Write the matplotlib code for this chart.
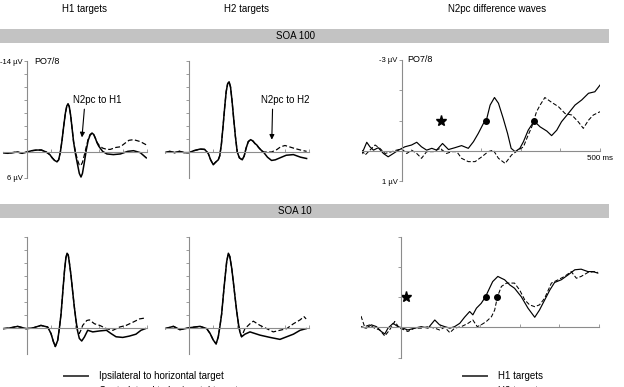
import matplotlib
matplotlib.use("Agg")
import matplotlib.pyplot as plt
from matplotlib.lines import Line2D
from matplotlib.patches import Rectangle

plt.rcParams['font.family'] = ['Liberation Sans', 'DejaVu Sans']

W, H = 624, 387

# ---- ERP waveforms at PO7/8 (µV, negative up), time in ms ----
# H1 targets, SOA 100: shared early part, then ipsi / contra
h1_100_t = [-100, -80, -60, -40, -20, 0, 20, 40, 60, 80, 95, 105, 115, 125, 132, 139, 146, 153, 160, 166, 171, 176, 182, 188, 194]
h1_100_v = [0.1, 0.2, 0.1, 0.0, 0.2, 0.0, -0.2, -0.3, -0.3, 0.0, 0.4, 0.9, 1.3, 1.5, 1.2, 0.0, -1.8, -4.0, -6.0, -7.1, -7.4, -7.0, -5.6, -3.6, -1.6]
h1_100_ipsi_t = [202, 211, 218, 225, 231, 238, 247, 255, 263, 271, 278, 285, 292, 299, 315, 333, 360, 389, 420, 444, 472, 497]
h1_100_ipsi_v = [0.3, 2.0, 3.3, 3.85, 3.3, 1.8, -0.3, -1.8, -2.6, -2.9, -2.7, -2.1, -1.4, -0.9, -0.1, 0.3, 0.4, 0.3, -0.1, -0.2, 0.1, 0.9]
h1_100_contra_t = [202, 211, 218, 224, 231, 238, 247, 255, 263, 271, 278, 285, 292, 299, 315, 333, 347, 370, 389, 410, 425, 444, 472, 497]
h1_100_contra_v = [0.0, 1.3, 2.0, 2.1, 1.6, 0.6, -0.8, -2.0, -2.7, -2.9, -2.7, -2.1, -1.5, -1.1, -0.6, -0.4, -0.4, -0.7, -0.8, -1.4, -1.8, -1.9, -1.6, -1.1]

# H2 targets, SOA 100
h2_100_t = [-100, -80, -60, -40, -20, 0, 20, 46, 65, 80, 90, 101, 110, 122, 128, 135, 142, 149, 155, 161, 167, 173, 179, 186, 193, 201, 210, 222, 230, 238, 247, 257, 266, 275, 282, 290, 300]
h2_100_v = [0.1, -0.1, 0.1, -0.1, 0.1, 0.1, -0.2, -0.45, -0.4, 0.2, 1.2, 1.95, 1.6, 1.2, 0.6, -1.2, -4.0, -7.0, -9.3, -10.5, -10.8, -10.0, -8.0, -5.2, -2.5, 0.0, 0.9, 1.2, 0.6, -0.6, -1.6, -1.9, -1.7, -1.3, -1.1, -0.7, -0.3]
h2_100_ipsi_t = [310, 327, 344, 360, 379, 405, 435, 465, 490]
h2_100_ipsi_v = [0.0, 0.8, 1.3, 1.2, 0.9, 0.5, 0.4, 0.8, 1.0]
h2_100_contra_t = [310, 327, 344, 365, 382, 400, 418, 435, 465, 490]
h2_100_contra_v = [0.0, 0.0, 0.0, -0.35, -0.8, -1.0, -0.8, -0.6, -0.3, -0.1]

# H1 targets, SOA 10
h1_10_t = [-100, -72, -39, -4, 24, 58, 86, 100, 110, 118, 128, 135, 142, 149, 156, 162, 167, 172, 176, 183, 190, 197, 204, 211]
h1_10_v = [0.1, 0.0, -0.25, 0.1, 0.0, -0.4, -0.15, 0.85, 2.1, 2.85, 1.9, 0.0, -2.2, -5.5, -8.7, -10.8, -11.5, -11.2, -10.2, -8.2, -5.7, -3.3, -1.2, 0.5]
h1_10_ipsi_t = [218, 228, 239, 253, 274, 303, 331, 350, 371, 399, 426, 454, 475, 493]
h1_10_ipsi_v = [1.6, 2.0, 1.4, 0.35, 0.6, 0.45, 0.35, 0.85, 1.35, 1.45, 1.25, 0.95, 0.35, 0.1]
h1_10_contra_t = [218, 225, 232, 249, 260, 281, 303, 331, 358, 386, 413, 442, 469, 494]
h1_10_contra_v = [0.85, 0.3, -0.4, -1.15, -1.25, -0.65, -0.4, 0.1, 0.35, -0.15, -0.4, -0.9, -1.4, -1.55]

# H2 targets, SOA 10
h2_10_t = [-100, -65, -38, 4, 46, 74, 88, 101, 113, 122, 129, 136, 143, 150, 157, 164, 170, 178, 185, 192, 199, 206, 212, 219]
h2_10_v = [0.1, -0.25, 0.25, -0.05, -0.25, 0.1, 0.85, 1.85, 2.45, 1.35, -0.3, -2.15, -5.0, -7.7, -10.2, -11.5, -11.0, -9.2, -7.0, -4.7, -2.5, -0.65, 0.6, 1.35]
h2_10_ipsi_t = [233, 254, 296, 338, 379, 407, 435, 463, 488]
h2_10_ipsi_v = [0.95, 0.6, 1.1, 1.45, 1.75, 1.35, 0.95, 0.35, 0.1]
h2_10_contra_t = [233, 254, 268, 296, 324, 351, 379, 407, 435, 463, 479, 488]
h2_10_contra_v = [0.1, -0.65, -1.05, -0.4, 0.1, 0.6, 0.35, 0.1, -0.65, -1.25, -1.75, -1.4]

# ---- N2pc difference waves ----
d100_h1_t = [-100, -88, -80, -71, -59, -46, -34, -21, -8, 8, 25, 38, 50, 63, 76, 88, 103, 118, 134, 151, 168, 181, 193, 206, 213, 223, 234, 244, 256, 267, 276, 286, 298, 307, 319, 334, 349, 366, 378, 391, 403, 420, 437, 454, 471, 487, 500]
d100_h1_v = [0.09, -0.28, -0.13, -0.02, -0.10, 0.09, 0.20, 0.09, -0.02, -0.13, -0.19, -0.28, -0.13, -0.02, -0.08, -0.02, -0.24, -0.04, -0.10, -0.17, -0.08, -0.30, -0.57, -0.90, -0.98, -1.51, -1.76, -1.57, -1.07, -0.57, -0.08, 0.03, -0.08, -0.30, -0.68, -0.98, -0.79, -0.65, -0.50, -0.68, -0.96, -1.23, -1.51, -1.68, -1.90, -1.95, -2.17]
d100_h2_t = [-100, -92, -80, -67, -55, -42, -25, -13, 0, 13, 25, 38, 50, 63, 80, 97, 113, 126, 139, 151, 168, 185, 202, 218, 231, 244, 261, 277, 294, 307, 319, 328, 340, 349, 361, 378, 395, 412, 429, 445, 458, 471, 483, 500]
d100_h2_v = [-0.02, 0.14, -0.02, -0.19, -0.08, 0.09, 0.03, -0.02, -0.06, 0.09, -0.02, 0.09, 0.25, 0.03, 0.03, -0.08, 0.09, 0.03, 0.03, 0.25, 0.36, 0.36, 0.20, 0.03, -0.02, 0.25, 0.42, 0.14, -0.02, -0.13, -0.52, -0.79, -1.29, -1.51, -1.76, -1.60, -1.46, -1.23, -1.18, -0.96, -0.74, -1.01, -1.18, -1.29]
d10_h1_t = [-100, -87, -74, -61, -49, -40, -32, -19, -7, 6, 18, 35, 52, 69, 86, 98, 111, 124, 136, 149, 161, 174, 182, 191, 203, 214, 224, 232, 245, 254, 262, 275, 287, 304, 321, 338, 350, 363, 376, 388, 405, 422, 439, 455, 472, 485, 497]
d10_h1_v = [-0.02, 0.03, -0.08, -0.02, 0.14, 0.22, 0.03, -0.13, -0.02, 0.03, 0.09, 0.03, -0.02, 0.03, -0.24, -0.08, -0.02, 0.03, -0.02, -0.13, -0.33, -0.52, -0.41, -0.63, -0.79, -1.01, -1.29, -1.51, -1.68, -1.62, -1.57, -1.40, -1.29, -1.01, -0.63, -0.33, -0.57, -0.90, -1.23, -1.48, -1.57, -1.73, -1.90, -1.92, -1.84, -1.84, -1.79]
d10_h2_t = [-100, -91, -78, -66, -53, -40, -28, -15, -3, 10, 18, 35, 52, 69, 86, 98, 111, 124, 136, 153, 170, 182, 193, 203, 216, 229, 237, 244, 254, 267, 279, 287, 300, 313, 325, 338, 350, 363, 380, 397, 413, 430, 443, 455, 472, 489, 497]
d10_h2_v = [-0.37, -0.02, -0.08, 0.03, 0.09, 0.29, 0.09, -0.19, 0.03, 0.09, 0.14, 0.03, 0.03, -0.02, 0.03, 0.09, 0.00, 0.18, 0.03, -0.02, -0.13, -0.24, -0.02, -0.08, -0.19, -0.35, -0.57, -1.01, -1.35, -1.46, -1.46, -1.46, -1.23, -0.90, -0.74, -0.68, -0.74, -0.96, -1.46, -1.57, -1.68, -1.84, -1.62, -1.68, -1.81, -1.84, -1.81]

# onset markers (dots) and significance stars
onset100_t = [213, 334]
onset100_v = [-1.0, -1.0]
onset10_t = [214, 244]
onset10_v = [-1.0, -1.0]
star100_t, star100_v = [100], [-1.0]
star10_t, star10_v = [13], [-1.0]

AX_COLOR = '#8c8c8c'
FS = 7

fig = plt.figure(figsize=(W / 100, H / 100), dpi=100)


def erp_axes(x0, x1, y0, y1, vtop, vbot, yticks, ylabels, xlabels):
    ax = fig.add_axes([x0 / W, 1 - y1 / H, (x1 - x0) / W, (y1 - y0) / H])
    ax.set_facecolor('none')
    ax.set_xlim(-100, 500)
    ax.set_ylim(vbot, vtop)
    for s in ['top', 'right']:
        ax.spines[s].set_visible(False)
    for s in ['left', 'bottom']:
        ax.spines[s].set_position(('data', 0))
        ax.spines[s].set_color(AX_COLOR)
        ax.spines[s].set_linewidth(0.8)
    ax.set_xticks([100, 200, 300, 400, 500], xlabels)
    ax.set_yticks(yticks, ylabels)
    ax.tick_params(axis='x', direction='in', length=2, width=0.6, color=AX_COLOR,
                   labelsize=5.8, pad=3)
    ax.tick_params(axis='y', direction='out', length=2, width=0.6, color=AX_COLOR,
                   labelsize=5.5, pad=1)
    return ax


def plot_pair(ax, t, v, ti, vi, tc, vc, lw=1.1):
    ax.plot(t + ti, v + vi, color='black', lw=lw, solid_joinstyle='round')
    ax.plot(t + tc, v + vc, color='black', lw=lw * 0.8, ls=(0, (4, 2)))


no_x = [''] * 5
left_ticks = [-14, -12, -10, -8, -6, -4, -2]

# SOA 100 row
ax = erp_axes(3, 147, 61, 178, -14, 4, left_ticks + [4],
              ['-14 µV'] + [''] * 6 + ['6 µV'], no_x)
plot_pair(ax, h1_100_t, h1_100_v, h1_100_ipsi_t, h1_100_ipsi_v, h1_100_contra_t, h1_100_contra_v)
ax.text(30, -14, 'PO7/8', fontsize=6.5, va='center')
ax.annotate('N2pc to H1', xy=(229, -2.25), xytext=(291, -8.0), ha='center', va='center',
            fontsize=FS, arrowprops=dict(arrowstyle='-|>', color='black', lw=0.8,
                                         mutation_scale=7, relpos=(0.25, 0),
                                         shrinkA=1, shrinkB=0))

ax = erp_axes(165, 309, 61, 178, -14, 4, left_ticks, [''] * 7, no_x)
plot_pair(ax, h2_100_t, h2_100_v, h2_100_ipsi_t, h2_100_ipsi_v, h2_100_contra_t, h2_100_contra_v)
ax.annotate('N2pc to H2', xy=(345, -1.9), xytext=(399, -8.0), ha='center', va='center',
            fontsize=FS, arrowprops=dict(arrowstyle='-|>', color='black', lw=0.8,
                                         mutation_scale=7, relpos=(0.25, 0),
                                         shrinkA=1, shrinkB=0))

ax = erp_axes(362, 600, 60, 181, -3, 1, [-3, -2, -1, 1], ['-3 µV', '', '', '1 µV'],
              [''] * 4 + ['500 ms'])
ax.plot(d100_h1_t, d100_h1_v, color='black', lw=0.85)
ax.plot(d100_h2_t, d100_h2_v, color='black', lw=0.75, ls=(0, (4, 2)))
ax.plot(onset100_t, onset100_v, 'o', color='black', ms=4)
ax.plot(star100_t, star100_v, '*', color='black', ms=8)
ax.text(13, -3, 'PO7/8', fontsize=6.5, va='center')

# SOA 10 row
ax = erp_axes(3, 147, 237, 354, -14, 4, left_ticks, [''] * 7, no_x)
plot_pair(ax, h1_10_t, h1_10_v, h1_10_ipsi_t, h1_10_ipsi_v, h1_10_contra_t, h1_10_contra_v)

ax = erp_axes(165, 309, 237, 354, -14, 4, left_ticks, [''] * 7, no_x)
plot_pair(ax, h2_10_t, h2_10_v, h2_10_ipsi_t, h2_10_ipsi_v, h2_10_contra_t, h2_10_contra_v)

ax = erp_axes(361, 599, 236.5, 357.5, -3, 1, [-3, -2, -1, 1], [''] * 4, no_x)
ax.plot(d10_h1_t, d10_h1_v, color='black', lw=0.85)
ax.plot(d10_h2_t, d10_h2_v, color='black', lw=0.75, ls=(0, (4, 2)))
ax.plot(onset10_t, onset10_v, 'o', color='black', ms=4)
ax.plot(star10_t, star10_v, '*', color='black', ms=8)

# column titles and SOA bars
for x, label in [(85, 'H1 targets'), (246, 'H2 targets'), (497, 'N2pc difference waves')]:
    fig.text(x / W, 1 - 9 / H, label, ha='center', va='center', fontsize=FS)

for y0, label in [(29, 'SOA 100'), (204, 'SOA 10')]:
    fig.add_artist(Rectangle((0, 1 - (y0 + 14) / H), 609 / W, 14 / H,
                             transform=fig.transFigure, color='#c3c3c3', lw=0))
    fig.text(295 / W, 1 - (y0 + 7) / H, label, ha='center', va='center', fontsize=FS)

# legends (second row falls off the bottom edge, as in the original)
h_solid = Line2D([], [], color='#444444', lw=1.4)
h_dash = Line2D([], [], color='#444444', lw=1.4, ls=(0, (4, 2)))
leg_kw = dict(loc='upper left', frameon=False, fontsize=FS, borderpad=0, borderaxespad=0,
              handlelength=2.5, handletextpad=1.1, labelspacing=0.5)
fig.legend([h_solid, h_dash], ['Ipsilateral to horizontal target', 'Contralateral to horizontal target'],
           bbox_to_anchor=(64 / W, 1 - 371 / H), **leg_kw)
fig.legend([h_solid, h_dash], ['H1 targets', 'H2 targets'],
           bbox_to_anchor=(463 / W, 1 - 371 / H), **leg_kw)

fig.savefig('out.png', dpi=100)
